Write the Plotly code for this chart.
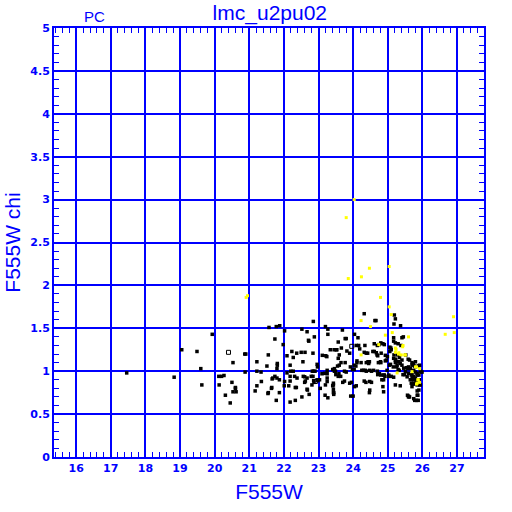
import plotly.graph_objects as go

# ---- data ----
black_pts = [
(17.46,0.98),(18.83,0.93),(19.05,1.25),(19.49,1.23),(19.60,1.03),(19.63,0.84),(19.93,1.43),(20.53,1.10),
(20.12,0.94),(20.13,0.84),(20.50,0.87),(20.60,0.80),(20.53,0.76),(20.62,0.76),(20.31,0.72),(20.45,0.63),
(20.87,1.20),(20.90,1.20),(20.88,0.99),(20.20,0.94),(20.27,0.95),(20.60,0.81),
(21.22,1.11),(21.34,0.99),(21.22,1.00),(21.51,1.06),(21.55,1.19),(21.35,0.88),(21.22,0.83),(21.17,0.77),
(21.55,0.75),(21.57,1.51),(21.78,1.52),(21.88,1.53),(21.74,1.375),(21.98,1.31),(22.02,1.47),(21.81,1.09),
(21.81,1.07),(21.80,1.03),(21.80,0.92),(21.68,0.92),(21.87,0.90),(21.74,0.94),(21.64,0.80),(21.87,0.75),
(21.78,0.66),(22.01,0.83),(21.54,0.74),(21.66,0.91),(21.65,0.81),
(22.09,1.18),(22.23,1.23),(22.37,1.21),(22.50,1.22),(22.61,1.22),(22.27,1.16),(22.18,1.07),(22.55,1.11),
(22.67,1.46),(22.52,1.49),(22.71,1.36),(22.72,1.35),(22.85,1.58),(22.88,1.40),(22.84,1.21),(23.20,1.52),
(23.27,1.49),(23.27,1.43),(22.96,1.08),(22.97,1.05),(23.11,1.185),(23.21,1.18),(23.24,1.17),(23.34,1.25),
(23.53,1.25),(23.57,1.15),(23.60,1.19),(23.46,1.00),(23.49,1.00),(23.59,0.97),(23.25,1.01),(23.10,0.97),
(23.18,0.975),(23.25,0.97),(23.25,0.92),(23.25,0.88),(23.20,0.84),(23.43,0.84),(23.43,0.79),(23.43,0.75),
(23.19,0.72),(23.27,0.69),(23.05,0.80),
(22.09,0.98),(22.20,1.00),(22.27,1.00),(22.31,0.94),(22.38,0.92),(22.18,0.94),(22.18,0.885),(22.02,0.88),
(22.14,0.83),(22.33,0.81),(22.36,0.81),(22.18,0.64),(22.33,0.66),(22.52,0.70),(22.67,0.79),(22.68,0.78),
(22.73,0.73),(22.62,0.885),(22.60,0.87),(22.67,0.92),(22.56,0.94),(22.60,0.935),(22.79,0.94),(22.84,0.94),
(22.86,0.89),(22.87,0.87),(22.96,0.90),(22.98,0.89),(22.82,1.00),(22.86,1.00),(22.90,1.00),(23.03,0.90),
(22.81,0.84),
(24.32,1.67),(24.63,1.59),(24.66,1.59),(25.19,1.655),(25.22,1.61),(25.18,1.55),(25.37,1.53),(23.69,1.48),
(24.04,1.43),(24.14,1.39),(23.77,1.38),(23.80,1.38),(25.41,1.39),(25.45,1.40),(25.17,1.39),(25.17,1.35),
(25.22,1.33),(25.30,1.32),(25.06,1.28),(25.09,1.27),(25.38,1.30),(23.57,1.34),(24.09,1.30),(24.16,1.30),
(24.34,1.30),(24.61,1.32),(24.86,1.32),(24.90,1.31),(24.70,1.30),(23.51,1.25),(23.45,1.25),(23.66,1.27),
(23.82,1.235),(23.90,1.21),(24.19,1.26),(24.32,1.22),(24.38,1.21),(24.42,1.21),(24.57,1.23),(24.61,1.23),
(24.67,1.215),(24.81,1.21),(24.93,1.185),(24.99,1.17),(25.06,1.23),(25.10,1.25),(25.18,1.19),(25.28,1.19),
(25.23,1.14),(25.34,1.16),(25.41,1.13),(25.52,1.19),(25.59,1.14),(25.63,1.13),(25.70,1.10),(25.74,1.09),
(25.77,1.06),(25.80,1.05),(25.88,1.06),(25.92,1.07),(25.96,0.99),(25.99,0.99),(25.54,1.04),(25.58,1.03),
(25.70,0.96),(25.75,0.94),(25.80,0.92),(25.70,0.91),(25.75,0.90),(25.72,0.85),(25.68,0.86),(25.78,0.85),
(25.92,0.84),(25.85,0.77),(25.60,0.71),(25.63,0.70),(25.75,0.68),(25.83,0.66),(25.87,0.72),(25.36,0.83),
(25.44,0.96),(25.48,0.96),(25.33,1.01),(25.30,1.02),(25.22,1.10),(25.27,1.11),(25.16,1.05),(25.26,1.05),
(25.05,1.07),(25.08,1.08),(24.93,1.12),(24.96,1.13),(24.79,1.11),(24.71,1.18),(24.69,1.19),(24.47,1.11),
(24.43,1.11),(24.38,1.10),(24.45,1.09),(24.23,1.10),(24.11,1.12),(24.11,1.10),(24.03,1.07),(24.08,1.06),
(23.92,1.05),(23.77,1.10),(23.65,1.10),(23.60,1.07),(23.55,1.06),(23.46,1.03),(23.41,1.02),(23.75,1.00),
(23.80,0.99),(23.98,1.02),(24.03,1.02),(24.25,1.01),(24.30,1.01),(24.35,1.01),(24.38,1.00),(24.48,1.01),
(24.53,1.00),(24.59,1.01),(24.71,0.96),(24.76,0.97),(24.90,0.955),(24.92,0.94),(24.98,1.01),(25.03,0.94),
(24.88,0.90),(24.86,0.82),(24.88,0.76),(24.48,0.78),(24.47,0.75),(24.53,0.87),(24.48,0.88),(24.32,0.885),
(24.37,0.87),(24.09,0.83),(24.04,0.82),(23.95,0.87),(23.90,0.86),(23.75,0.885),(23.70,0.87),(23.57,0.94),
(23.43,0.86),(23.41,0.83),(23.44,0.75),(23.44,0.73),(23.93,0.71),(24.00,0.71),(23.64,0.94),(23.50,0.96),
(25.60,1.05),(25.65,1.03),(25.70,1.07),(25.75,1.01),(25.80,0.99),(25.85,0.975),(25.60,0.975),(25.68,0.955),
(25.72,0.93),(25.78,0.905),(25.82,0.88),(25.87,0.90),(25.65,0.90),(25.56,0.935),(25.75,0.86),(25.85,0.84),
(25.70,0.82),(25.90,0.955),(25.51,0.995),(25.46,1.035),(25.41,1.07),(25.36,1.09),(25.32,1.11),(25.22,1.13),
(25.17,1.15),(25.27,1.07),
(24.75,1.31),(24.80,1.33),(24.73,1.10),(24.80,1.10),(24.70,1.00),(24.80,0.955),(24.88,0.955),(24.83,0.90),
(25.03,0.955),(25.10,0.94),(25.17,0.93),(25.22,0.84),(25.57,0.72),(25.60,0.70),(25.78,0.66),
(25.80,1.11),(25.90,1.06),(25.94,1.00),(25.85,0.955),(25.91,0.90),(25.94,0.84),(25.90,0.78),(25.85,0.72),
(25.88,0.66),
]
black_x = [p[0] for p in black_pts]
black_y = [p[1] for p in black_pts]

hollow_x = [20.40, 23.96, 22.91]
hollow_y = [1.22, 1.29, 0.88]

yellow_x = [20.91, 20.95, 24.03, 23.80, 24.47, 25.04, 24.24, 23.86, 24.79, 25.04, 25.10, 24.23, 24.50,
            26.90, 26.66, 26.92, 24.93, 25.13, 25.60, 24.74, 25.44, 25.22, 25.22, 25.31, 24.23, 25.51,
            25.83, 25.92, 25.27, 25.70, 25.88, 25.92, 25.83, 25.24, 25.32, 25.43, 25.39, 25.49, 25.80,
            25.87, 25.85]
yellow_y = [1.86, 1.88, 3.00, 2.79, 2.20, 2.22, 2.10, 2.08, 1.86, 1.75, 1.66, 1.59, 1.52,
            1.635, 1.43, 1.45, 1.42, 1.45, 1.40, 1.31, 1.30, 1.27, 1.22, 1.20, 1.19, 1.19,
            1.05, 1.03, 0.98, 0.995, 0.90, 0.87, 0.85, 1.255, 1.215, 1.285, 1.19, 1.19, 1.05,
            0.90, 0.86]

x_ticks = list(range(16, 28))
y_ticks = [0, 0.5, 1, 1.5, 2, 2.5, 3, 3.5, 4, 4.5, 5]
y_tick_labels = ["0", "0.5", "1", "1.5", "2", "2.5", "3", "3.5", "4", "4.5", "5"]

BLUE = "#0000ff"

fig = go.Figure()
fig.add_trace(go.Scatter(x=black_x, y=black_y, mode="markers",
                         marker=dict(symbol="square", size=3.5, color="black", line=dict(width=0)),
                         showlegend=False, hoverinfo="skip"))
fig.add_trace(go.Scatter(x=hollow_x, y=hollow_y, mode="markers",
                         marker=dict(symbol="square-open", size=4, color="black", line=dict(width=1)),
                         showlegend=False, hoverinfo="skip"))
fig.add_trace(go.Scatter(x=yellow_x, y=yellow_y, mode="markers",
                         marker=dict(symbol="square", size=3, color="#ffff00", line=dict(width=0)),
                         showlegend=False, hoverinfo="skip"))

tickfont = dict(family="DejaVu Sans", size=11, color=BLUE, weight="bold")

fig.update_layout(
    width=512, height=512,
    margin=dict(l=54, r=28, t=28, b=55),
    paper_bgcolor="white", plot_bgcolor="white",
    title=dict(text="lmc_u2pu02", x=0.527, xanchor="center", y=0.976, yanchor="middle",
               font=dict(family="Liberation Sans", size=21, color=BLUE)),
    xaxis=dict(range=[15.36, 27.78], tickvals=x_ticks, ticktext=[str(v) for v in x_ticks],
               automargin=False,
               showgrid=True, gridcolor=BLUE, gridwidth=2,
               showline=True, linecolor=BLUE, linewidth=2, mirror="allticks",
               ticks="inside", ticklen=0, tickcolor=BLUE,
               minor=dict(dtick=0.2, ticks="inside", ticklen=5, tickcolor=BLUE, tickwidth=1, showgrid=False),
               tickfont=tickfont, zeroline=False,
               title=dict(text="F555W", font=dict(family="Liberation Sans", size=21, color=BLUE), standoff=10)),
    yaxis=dict(range=[0, 5], tickvals=y_ticks, ticktext=y_tick_labels,
               automargin=False,
               showgrid=True, gridcolor=BLUE, gridwidth=2,
               showline=True, linecolor=BLUE, linewidth=2, mirror="allticks",
               ticks="inside", ticklen=0, tickcolor=BLUE,
               minor=dict(dtick=0.1, ticks="inside", ticklen=5, tickcolor=BLUE, tickwidth=1, showgrid=False),
               tickfont=tickfont, zeroline=False,
               title=dict(text="F555W chi", font=dict(family="Liberation Sans", size=21, color=BLUE), standoff=4)),
    annotations=[dict(text="PC", xref="paper", yref="paper", x=0.095, y=1.0, yanchor="bottom",
                      xanchor="center", showarrow=False, yshift=1,
                      font=dict(family="Liberation Sans", size=15, color=BLUE))],
)

fig.write_html("out.html", config={"displayModeBar": False, "staticPlot": True},
               post_script="document.body.style.margin='0';document.body.style.overflow='hidden';")
